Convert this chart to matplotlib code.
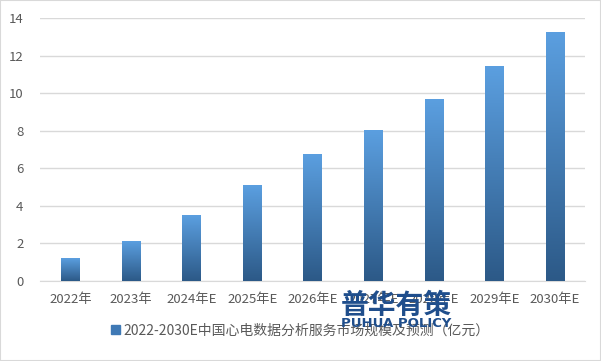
import numpy as np
import matplotlib
matplotlib.use("Agg")
import matplotlib.pyplot as plt
from matplotlib.colors import LinearSegmentedColormap
from matplotlib.patches import Rectangle

plt.rcParams['font.family'] = ['Noto Sans CJK SC', 'DejaVu Sans']

years = ['2022年', '2023年', '2024年E', '2025年E', '2026年E', '2027年E', '2028年E', '2029年E', '2030年E']
values = [1.22, 2.13, 3.5, 5.1, 6.76, 8.04, 9.69, 11.44, 13.25]
series_name = '2022-2030E中国心电数据分析服务市场规模及预测（亿元）'

fig = plt.figure(figsize=(6.01, 3.61), dpi=100)
ax = fig.add_axes([0.067, 0.222, 0.907, 0.728])

cmap = LinearSegmentedColormap.from_list('bluegrad', ['#2c5987', '#5b9fe0'])
grad = np.linspace(0, 1, 256).reshape(-1, 1)

x = np.arange(len(years))
bars = ax.bar(x, values, width=0.31, color='none', zorder=3)
for b in bars:
    x0, w, h = b.get_x(), b.get_width(), b.get_height()
    im = ax.imshow(grad, extent=[x0, x0 + w, 0, h], origin='lower', cmap=cmap,
                   aspect='auto', zorder=3)
    clip = Rectangle((x0, 0), w, h, transform=ax.transData)
    im.set_clip_path(clip)

ax.set_xlim(-0.5, len(years) - 0.5)
ax.set_ylim(0, 14)
ax.set_yticks(range(0, 15, 2))
ax.set_xticks(x)
ax.set_xticklabels(years)
ax.tick_params(axis='both', length=0, labelsize=9.5, colors='#595959')
ax.tick_params(axis='x', pad=9)
ax.tick_params(axis='y', pad=12)
ax.grid(axis='y', color='#d9d9d9', linewidth=1, zorder=0)
for s in ['top', 'right', 'left']:
    ax.spines[s].set_visible(False)
ax.spines['bottom'].set_color('#d9d9d9')

# legend
legend_handle = Rectangle((0, 0), 1, 1, color='#3f79b5')
fig.legend([legend_handle], [series_name], loc='lower center', bbox_to_anchor=(0.5, 0.03),
           frameon=False, fontsize=10, handlelength=0.6, handleheight=0.6,
           handletextpad=0.3, labelcolor='#595959')

# watermark
fig.text(0.66, 0.152, '普华有策', ha='center', va='center', fontsize=20,
         fontweight='heavy', color='#1f4e8c', zorder=10)
fig.text(0.66, 0.105, 'PUHUA POLICY', ha='center', va='center', fontsize=9.5,
         fontweight='bold', color='#1f4e8c', family=['DejaVu Sans'], zorder=10)

fig.patches.append(Rectangle((0, 0), 1, 1, transform=fig.transFigure, fill=False,
                             edgecolor='#d9d9d9', linewidth=1.5))

fig.savefig('out.png', dpi=100)
